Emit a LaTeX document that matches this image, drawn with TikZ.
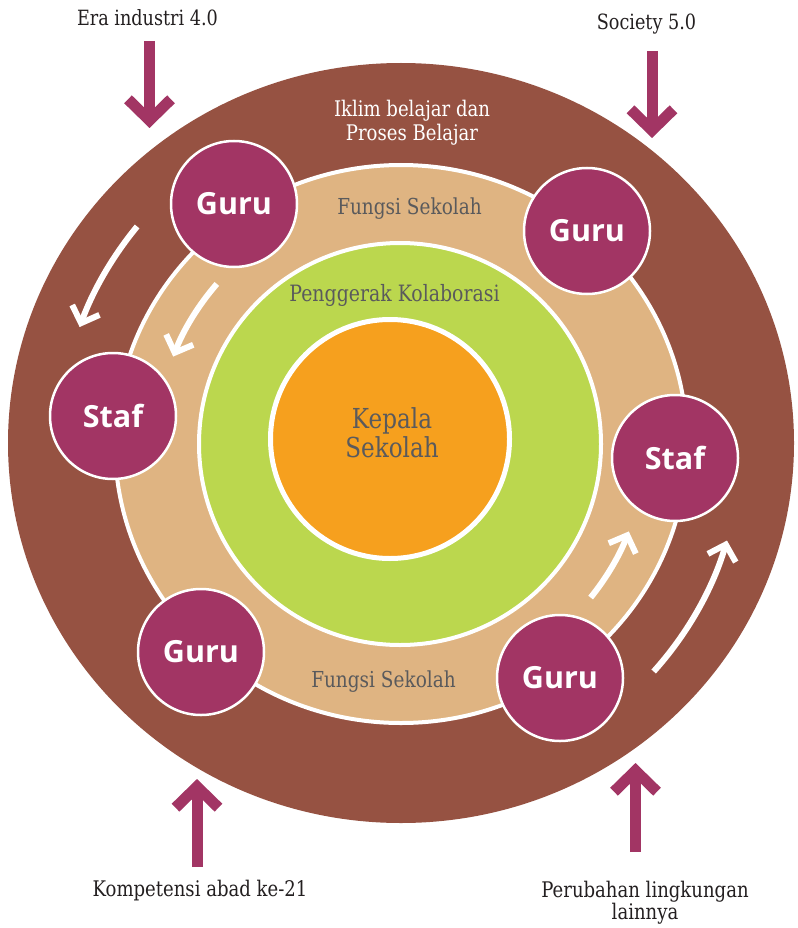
\documentclass[tikz,border=0pt]{standalone}
\usepackage{fontspec}
\setmainfont{DejaVu Serif}[FakeStretch=0.84]
\newfontfamily\rolefont{Open Sans}
\usetikzlibrary{arrows.meta,shapes.geometric}

\definecolor{ringbrown}{HTML}{965242}
\definecolor{ringtan}{HTML}{DFB482}
\definecolor{ringgreen}{HTML}{BBD74E}
\definecolor{coreorange}{HTML}{F6A01E}
\definecolor{rolepurple}{HTML}{A23564}
\definecolor{labelgray}{HTML}{5A5A5C}
\definecolor{labelblack}{HTML}{231F20}

\tikzset{
  ring/.style={ellipse, inner sep=0pt, outer sep=0pt, draw=white, line width=4pt},
  role/.style={circle, fill=rolepurple, draw=white, line width=2.5pt,
    minimum size=126pt, inner sep=0pt, text=white,
    font=\rolefont\bfseries\fontsize{30.5}{30}\selectfont},
  outerlabel/.style={anchor=base, inner sep=0pt, text=labelblack,
    font=\fontsize{21.5}{24}\selectfont},
  ringlabel/.style={anchor=base, inner sep=0pt, text=labelgray,
    font=\fontsize{22}{24}\selectfont},
  climatelabel/.style={anchor=base, inner sep=0pt, text=white,
    font=\fontsize{21.5}{24}\selectfont},
  pusharrow/.style={draw=rolepurple, line width=11pt,
    -{Straight Barb[sharp, length=21pt, width=43pt]}},
  flowarrow/.style={draw=white, line width=6pt,
    -{Straight Barb[sharp, length=14pt, width=29pt]}},
}

\begin{document}
\begin{tikzpicture}[x=1pt, y=-1pt]
\useasboundingbox (0,0) rectangle (797,928);

% nested rings
\node[ring, draw=none, fill=ringbrown, minimum width=786pt, minimum height=760pt] (climate) at (401,443) {};
\node[ring, fill=ringtan, minimum width=572pt, minimum height=558pt] (function) at (401,444) {};
\node[ring, circle, fill=ringgreen, minimum size=402pt] (collab) at (400,444) {};
\node[ring, circle, fill=coreorange, line width=5pt, minimum size=239pt] (head) at (390,439) {};

% ring texts
\node[climatelabel] (climateA) at (412,117) {Iklim belajar dan};
\node[climatelabel] (climateB) at (412,141) {Proses Belajar};
\node[ringlabel] (functionTop) at (409.5,214) {Fungsi Sekolah};
\node[ringlabel] (functionBottom) at (383.5,687) {Fungsi Sekolah};
\node[ringlabel, font=\fontsize{22.5}{24}\selectfont] (collabLabel) at (394.5,301) {Penggerak Kolaborasi};
\node[ringlabel, font=\fontsize{27.5}{29}\selectfont] (headA) at (392,428) {Kepala};
\node[ringlabel, font=\fontsize{27.5}{29}\selectfont] (headB) at (392,457) {Sekolah};

% circulation arrows inside the rings
\coordinate (hub) at (401,444);
\draw[flowarrow] ([shift={(-140.5:342)}]hub) arc[start angle=-140.5, end angle=-160, radius=342];
\draw[flowarrow] ([shift={(-139:244)}]hub) arc[start angle=-139, end angle=-159, radius=244];
\draw[flowarrow] ([shift={(39:244)}]hub) arc[start angle=39, end angle=21, radius=244];
\draw[flowarrow] ([shift={(42:340)}]hub) arc[start angle=42, end angle=16.5, radius=340];

% people
\node[role] (guruNW) at (234,204) {Guru};
\node[role] (guruNE) at (587,231) {Guru};
\node[role] (stafW) at (113,416) {Staf};
\node[role] (stafE) at (675,458) {Staf};
\node[role] (guruSW) at (201,652) {Guru};
\node[role] (guruSE) at (560,678) {Guru};

% outside influences
\node[outerlabel, font=\fontsize{21}{24}\selectfont] (era) at (147.5,26) {Era industri 4.0};
\node[outerlabel, font=\fontsize{21}{24}\selectfont] (society) at (646.5,29.5) {Society 5.0};
\node[outerlabel] (skills) at (200,896) {Kompetensi abad ke-21};
\node[outerlabel] (changeA) at (645,897.5) {Perubahan lingkungan};
\node[outerlabel] (changeB) at (645,919.5) {lainnya};

\coordinate (eraTail) at (149.5,41);
\coordinate (eraHead) at (149.5,128);
\coordinate (societyTail) at (652,51);
\coordinate (societyHead) at (652,138);
\coordinate (skillsTail) at (197,867);
\coordinate (skillsHead) at (197,779);
\coordinate (changeTail) at (635.5,852);
\coordinate (changeHead) at (635.5,763);

\draw[pusharrow] (eraTail) -- (eraHead);
\draw[pusharrow] (societyTail) -- (societyHead);
\draw[pusharrow] (skillsTail) -- (skillsHead);
\draw[pusharrow] (changeTail) -- (changeHead);
\end{tikzpicture}
\end{document}
